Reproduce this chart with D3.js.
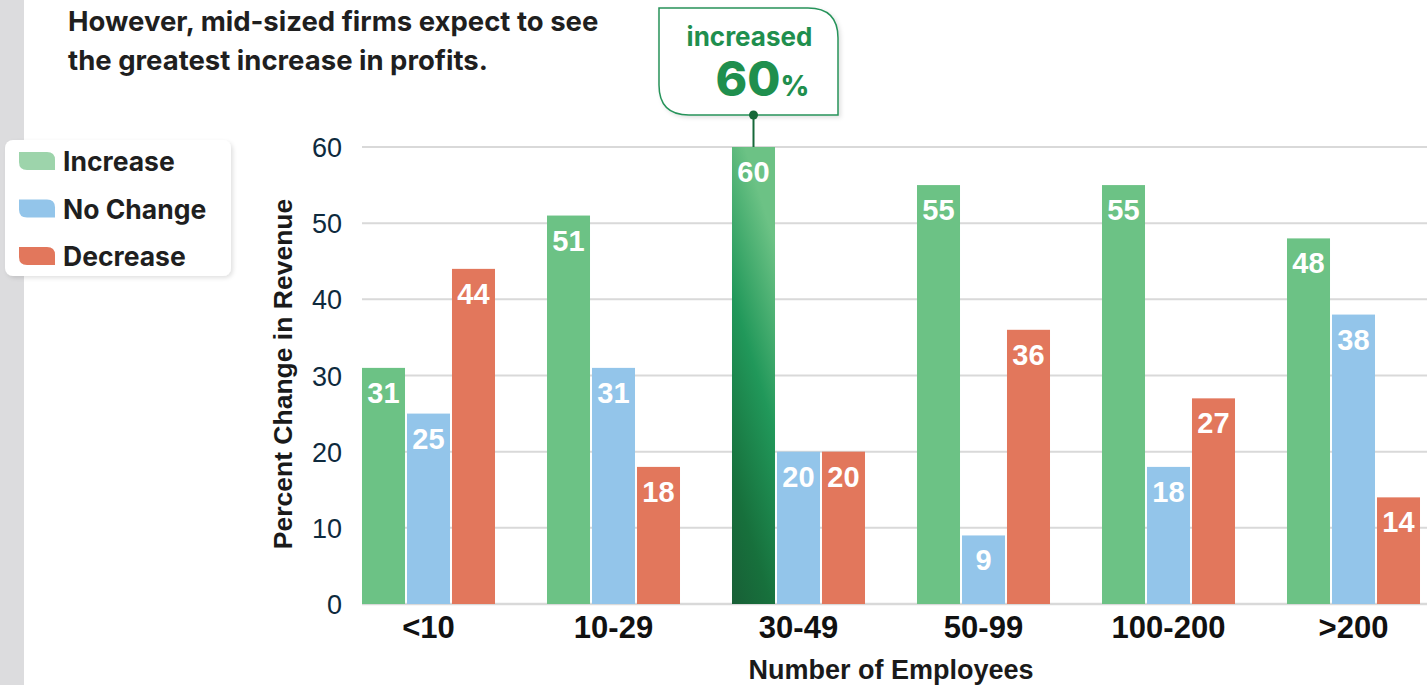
<!DOCTYPE html>
<html>
<head>
<meta charset="utf-8">
<script src="https://cdn.jsdelivr.net/npm/d3@7"></script>
<style>
  html, body { margin: 0; padding: 0; background: #fff; }
  svg { display: block; }
</style>
</head>
<body>
<svg id="chart" width="1427" height="685"></svg>
<script>
// ─── Data ─────────────────────────────────────────────────────────────────────
const categories = ['<10', '10-29', '30-49', '50-99', '100-200', '>200'];
const seriesNames = ['Increase', 'No Change', 'Decrease'];
const increase = [31, 51, 60, 55, 55, 48];
const noChange = [25, 31, 20, 9, 18, 38];
const decrease = [44, 18, 20, 36, 27, 14];
const yTicks = [0, 10, 20, 30, 40, 50, 60];
const highlightCat = '30-49';

const W = 1427, H = 685;
const M = { top: 147, right: 0, bottom: 81, left: 362 };
const plotBottom = H - M.bottom;

const COLORS = { 'Increase': '#6cc285', 'No Change': '#93c5ea', 'Decrease': '#e2775c' };
const SWATCH = { 'Increase': '#9dd4ab', 'No Change': '#93c5ea', 'Decrease': '#e2775c' };
const FONT = "'Liberation Sans', Arial, sans-serif";
const TFONT = "Inter, 'Liberation Sans', sans-serif";

const rows = categories.map((c, i) => ({
  cat: c,
  values: [
    { key: 'Increase', v: increase[i] },
    { key: 'No Change', v: noChange[i] },
    { key: 'Decrease', v: decrease[i] }
  ]
}));

const svg = d3.select('#chart');
const defs = svg.append('defs');

const grad = defs.append('linearGradient').attr('id', 'hiGrad')
  .attr('x1', '0.3').attr('y1', '0').attr('x2', '0').attr('y2', '1');
grad.append('stop').attr('offset', '0%').attr('stop-color', '#6cc285');
grad.append('stop').attr('offset', '38%').attr('stop-color', '#21985a');
grad.append('stop').attr('offset', '75%').attr('stop-color', '#17703c');
grad.append('stop').attr('offset', '100%').attr('stop-color', '#185f36');

const shadow = defs.append('filter').attr('id', 'shadow')
  .attr('x', '-10%').attr('y', '-10%').attr('width', '130%').attr('height', '130%');
shadow.append('feDropShadow').attr('dx', 2).attr('dy', 2).attr('stdDeviation', 2)
  .attr('flood-color', '#000').attr('flood-opacity', 0.12);

// left grey strip
svg.append('rect').attr('x', 0).attr('y', 0).attr('width', 24).attr('height', H).attr('fill', '#dcdcde');

// ── Scales ────────────────────────────────────────────────────────────────────
const x0 = d3.scaleBand().domain(categories).range([336, 1446]).paddingInner(0.281).paddingOuter(0.1405);
const x1 = d3.scaleBand().domain(seriesNames).range([0, x0.bandwidth()]).paddingInner(0.044);
const y = d3.scaleLinear().domain([0, 60]).range([plotBottom, M.top]);

// ── Grid ──────────────────────────────────────────────────────────────────────
const g = svg.append('g');
g.selectAll('.grid').data(yTicks).enter().append('line')
  .attr('x1', M.left).attr('x2', W)
  .attr('y1', d => y(d)).attr('y2', d => y(d))
  .attr('stroke', '#d9d9d9').attr('stroke-width', d => d === 0 ? 2.5 : 2);

// y tick labels
g.selectAll('.ytick').data(yTicks).enter().append('text')
  .attr('x', 342).attr('y', d => y(d) + 10)
  .attr('text-anchor', 'end')
  .attr('font-family', FONT).attr('font-size', 27)
  .attr('fill', '#0e2a3d')
  .text(d => d);

// ── Bars ──────────────────────────────────────────────────────────────────────
const groups = g.selectAll('.grp').data(rows).enter().append('g')
  .attr('transform', d => `translate(${x0(d.cat)},0)`);

groups.selectAll('rect').data(d => d.values.map(v => ({ ...v, cat: d.cat }))).enter().append('rect')
  .attr('x', d => x1(d.key)).attr('width', x1.bandwidth())
  .attr('y', d => y(d.v)).attr('height', d => plotBottom - y(d.v))
  .attr('fill', d => (d.cat === highlightCat && d.key === 'Increase') ? 'url(#hiGrad)' : COLORS[d.key]);

groups.selectAll('.lbl').data(d => d.values).enter().append('text')
  .attr('x', d => x1(d.key) + x1.bandwidth() / 2)
  .attr('y', d => y(d.v) + 35)
  .attr('text-anchor', 'middle')
  .attr('font-family', FONT).attr('font-weight', 700).attr('font-size', 29)
  .attr('fill', '#fff')
  .text(d => d.v);

// x tick labels
g.selectAll('.xtick').data(categories).enter().append('text')
  .attr('x', d => x0(d) + x0.bandwidth() / 2).attr('y', 638)
  .attr('text-anchor', 'middle')
  .attr('font-family', FONT).attr('font-weight', 700).attr('font-size', 31)
  .attr('fill', '#111')
  .text(d => d);

// axis titles
svg.append('text')
  .attr('x', 891).attr('y', 679)
  .attr('text-anchor', 'middle')
  .attr('font-family', FONT).attr('font-weight', 700).attr('font-size', 27)
  .attr('fill', '#1a1a1a')
  .text('Number of Employees');

svg.append('text')
  .attr('transform', 'translate(292,374) rotate(-90)')
  .attr('text-anchor', 'middle')
  .attr('font-family', FONT).attr('font-weight', 700).attr('font-size', 26.5)
  .attr('fill', '#1a1a1a')
  .text('Percent Change in Revenue');

// ── Title ─────────────────────────────────────────────────────────────────────
const title = svg.append('text').attr('font-family', TFONT).attr('font-weight', 700)
  .attr('font-size', 27.5).attr('fill', '#1f1f1f');
title.append('tspan').attr('x', 68).attr('y', 31).text('However, mid-sized firms expect to see');
title.append('tspan').attr('x', 68).attr('y', 70).text('the greatest increase in profits.');

// ── Legend ────────────────────────────────────────────────────────────────────
const leg = svg.append('g');
leg.append('rect').attr('x', 5).attr('y', 140).attr('width', 226).attr('height', 136)
  .attr('rx', 8).attr('fill', '#fff').attr('filter', 'url(#shadow)');
const leaf = (x, yy, w, h, r) =>
  `M${x},${yy} H${x + w - r} Q${x + w},${yy} ${x + w},${yy + r} V${yy + h} H${x + r} Q${x},${yy + h} ${x},${yy + h - r} Z`;
seriesNames.forEach((s, i) => {
  const yy = 152 + i * 47.5;
  leg.append('path').attr('d', leaf(19, yy, 36, 18, 8)).attr('fill', SWATCH[s]);
  leg.append('text').attr('x', 63).attr('y', yy + 19)
    .attr('font-family', TFONT).attr('font-weight', 700).attr('font-size', 26.5)
    .attr('fill', '#1f1f1f').text(s);
});

// ── Callout ───────────────────────────────────────────────────────────────────
const hiX = x0(highlightCat) + x1('Increase') + x1.bandwidth() / 2;
const hiV = increase[categories.indexOf(highlightCat)];
const cb = { x: 659, y: 8, w: 179, h: 107, r: 30 };
const callPath = `M${cb.x},${cb.y} H${cb.x + cb.w - cb.r} Q${cb.x + cb.w},${cb.y} ${cb.x + cb.w},${cb.y + cb.r}` +
  ` V${cb.y + cb.h} H${cb.x + cb.r} Q${cb.x},${cb.y + cb.h} ${cb.x},${cb.y + cb.h - cb.r} Z`;
svg.append('path').attr('d', callPath).attr('fill', '#fff')
  .attr('stroke', '#27935a').attr('stroke-width', 1.5).attr('filter', 'url(#shadow)');
svg.append('line').attr('x1', hiX).attr('x2', hiX).attr('y1', cb.y + cb.h).attr('y2', y(hiV))
  .attr('stroke', '#17693a').attr('stroke-width', 2);
svg.append('circle').attr('cx', hiX).attr('cy', cb.y + cb.h).attr('r', 4.5).attr('fill', '#17693a');
svg.append('text').attr('x', cb.x + cb.w / 2 + 1).attr('y', 46)
  .attr('text-anchor', 'middle')
  .attr('font-family', TFONT).attr('font-weight', 700).attr('font-size', 26)
  .attr('fill', '#1f8f4e').text('increased');
const big = svg.append('text').attr('x', cb.x + cb.w / 2 + 14).attr('y', 96)
  .attr('text-anchor', 'middle')
  .attr('font-family', TFONT).attr('font-weight', 800).attr('fill', '#1f8f4e');
big.append('tspan').attr('font-size', 48).text(hiV);
big.append('tspan').attr('font-size', 28).text('%');
</script>
</body>
</html>
